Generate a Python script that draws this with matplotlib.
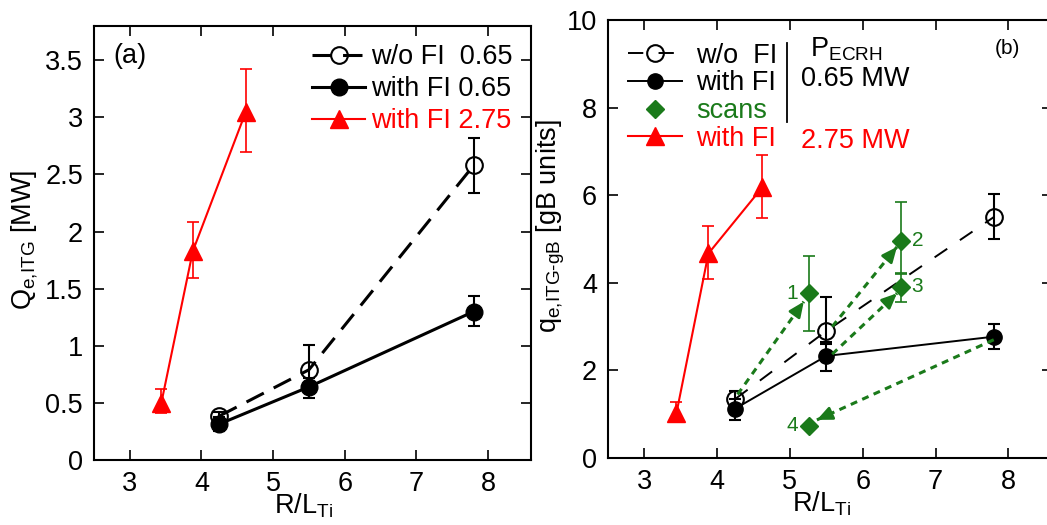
import numpy as np
import matplotlib
matplotlib.use("Agg")
import matplotlib.pyplot as plt
from matplotlib.lines import Line2D

plt.rcParams['font.family'] = ['Liberation Sans', 'DejaVu Sans']
plt.rcParams['mathtext.fontset'] = 'custom'
plt.rcParams['mathtext.rm'] = 'Liberation Sans'
plt.rcParams['mathtext.it'] = 'Liberation Sans'
plt.rcParams['lines.scale_dashes'] = False

GREEN = '#1a7a1a'
FS = 19.5

# ---- panel (a): Q_e,ITG [MW] ----
x_low = [4.25, 5.5, 7.8]
Q_nofi = [0.385, 0.79, 2.58]
Q_nofi_lo = [0.33, 0.60, 2.34]
Q_nofi_hi = [0.42, 1.01, 2.82]
Q_fi = [0.315, 0.64, 1.30]
Q_fi_lo = [0.25, 0.54, 1.17]
Q_fi_hi = [0.38, 0.72, 1.44]

x_high = [3.44, 3.88, 4.62]
Q_hi = [0.50, 1.83, 3.05]
Q_hi_lo = [0.41, 1.59, 2.70]
Q_hi_hi = [0.62, 2.08, 3.42]

# ---- panel (b): q_e,ITG-gB [gB units] ----
q_nofi = [1.35, 2.90, 5.50]
q_nofi_lo = [1.20, 2.65, 4.99]
q_nofi_hi = [1.54, 3.68, 6.02]
q_fi = [1.13, 2.33, 2.77]
q_fi_lo = [0.87, 1.99, 2.50]
q_fi_hi = [1.35, 2.60, 3.07]
q_hi = [1.02, 4.67, 6.18]
q_hi_lo = [0.85, 4.08, 5.47]
q_hi_hi = [1.27, 5.30, 6.92]

scan_x = [5.26, 6.52, 6.52, 5.26]
scan_q = [3.76, 4.96, 3.91, 0.74]
scan_lo = [2.91, 4.22, 3.57, 0.74]
scan_hi = [4.61, 5.84, 4.19, 0.74]
scan_names = ['1', '2', '3', '4']
# arrows: start point (reference case) -> scan point
arrow_from = [(4.28, 1.45), (5.58, 3.0), (5.58, 2.37), (7.80, 2.70)]
arrow_to = [(5.19, 3.57), (6.47, 4.82), (6.47, 3.76), (5.37, 0.87)]


def err(y, lo, hi):
    y = np.array(y)
    return [y - np.array(lo), np.array(hi) - y]


def style_axes(ax):
    ax.set_xlim(2.5, 8.6)
    ax.set_xticks([3, 4, 5, 6, 7, 8])
    ax.tick_params(direction='in', length=7, width=1.2, top=True, right=True,
                   labelsize=FS, pad=8)
    for s in ax.spines.values():
        s.set_linewidth(1.5)
    ax.set_xlabel(r'R/L$_{\mathregular{Ti}}$', fontsize=FS)
    ax.xaxis.set_label_coords(0.48, -0.072)


fig = plt.figure(figsize=(10.47, 5.25), dpi=100)
W, H = 1047, 525
ax1 = fig.add_axes([94 / W, (H - 460) / H, (531 - 94) / W, (460 - 26) / H])
ax2 = fig.add_axes([608 / W, (H - 458) / H, (1052 - 608) / W, (458 - 20) / H])

# panel (a)
ax1.errorbar(x_low, Q_nofi, yerr=err(Q_nofi, Q_nofi_lo, Q_nofi_hi), fmt='none',
             ecolor='k', elinewidth=1.5, capsize=4, capthick=1.5)
ax1.errorbar(x_low, Q_fi, yerr=err(Q_fi, Q_fi_lo, Q_fi_hi), fmt='none',
             ecolor='k', elinewidth=1.5, capsize=4, capthick=1.5)
ax1.errorbar(x_high, Q_hi, yerr=err(Q_hi, Q_hi_lo, Q_hi_hi), fmt='none',
             ecolor='red', elinewidth=1.2, capsize=4, capthick=1.2)
l1, = ax1.plot(x_low, Q_nofi, color='k', lw=2.2, dashes=(14, 8), marker='o',
               ms=12, mfc='none', mec='k', mew=1.5)
l2, = ax1.plot(x_low, Q_fi, color='k', lw=2.2, marker='o', ms=12, mfc='k', mec='k')
l3, = ax1.plot(x_high, Q_hi, color='red', lw=1.5, marker='^', ms=13, mfc='red', mec='red')
ax1.set_ylim(0, 3.8)
ax1.set_yticks([0, 0.5, 1, 1.5, 2, 2.5, 3, 3.5])
ax1.set_yticklabels(['0', '0.5', '1', '1.5', '2', '2.5', '3', '3.5'])
style_axes(ax1)
ax1.set_ylabel(r'Q$_{\mathregular{e{,}ITG}}$ [MW]', fontsize=FS)
ax1.yaxis.set_label_coords(-0.124, 0.507)
ax1.text(0.045, 0.93, '(a)', transform=ax1.transAxes, fontsize=FS, va='center')
leg1 = ax1.legend([l1, l2, l3], ['w/o FI  0.65', 'with FI 0.65', 'with FI 2.75'],
                  loc='upper left', bbox_to_anchor=(0.499, 0.958), frameon=False,
                  fontsize=FS, handlelength=1.96, handletextpad=0.2,
                  labelspacing=0.22, borderaxespad=0, borderpad=0)
for t, c in zip(leg1.get_texts(), ['k', 'k', 'red']):
    t.set_color(c)

# panel (b)
ax2.errorbar(x_low, q_nofi, yerr=err(q_nofi, q_nofi_lo, q_nofi_hi), fmt='none',
             ecolor='k', elinewidth=1.5, capsize=4, capthick=1.5)
ax2.errorbar(x_low, q_fi, yerr=err(q_fi, q_fi_lo, q_fi_hi), fmt='none',
             ecolor='k', elinewidth=1.5, capsize=4, capthick=1.5)
ax2.errorbar(x_high, q_hi, yerr=err(q_hi, q_hi_lo, q_hi_hi), fmt='none',
             ecolor='red', elinewidth=1.2, capsize=4, capthick=1.2)
ax2.errorbar(scan_x, scan_q, yerr=err(scan_q, scan_lo, scan_hi), fmt='none',
             ecolor=GREEN, elinewidth=1.2, capsize=4, capthick=1.2)
r1, = ax2.plot(x_low, q_nofi, color='k', lw=1.4, dashes=(11, 11), marker='o',
               ms=12, mfc='none', mec='k', mew=1.5)
r2, = ax2.plot(x_low, q_fi, color='k', lw=1.4, marker='o', ms=11, mfc='k', mec='k')
r4, = ax2.plot(x_high, q_hi, color='red', lw=1.5, marker='^', ms=13, mfc='red', mec='red')
for (x0, y0), (x1, y1) in zip(arrow_from, arrow_to):
    ax2.plot([x0, x1], [y0, y1], color=GREEN, lw=2.2, dashes=(5, 4))
    ax2.annotate('', xy=(x1, y1), xytext=(x0 + 0.93 * (x1 - x0), y0 + 0.93 * (y1 - y0)),
                 arrowprops=dict(arrowstyle='-|>,head_length=0.9,head_width=0.4',
                                 color=GREEN, lw=2.0, shrinkA=0, shrinkB=0))
r3, = ax2.plot(scan_x, scan_q, ls='none', marker='D', ms=9, mfc=GREEN, mec=GREEN)
for xs, ys, nm in zip(scan_x, scan_q, scan_names):
    dx = -0.23 if nm in ('1', '4') else 0.23
    ax2.text(xs + dx, ys, nm, color=GREEN, fontsize=15, ha='center', va='center')
ax2.set_ylim(0, 10)
ax2.set_yticks([0, 2, 4, 6, 8, 10])
style_axes(ax2)
ax2.set_ylabel(r'q$_{\mathregular{e{,}ITG\text{-}gB}}$ [gB units]', fontsize=FS)
ax2.yaxis.set_label_coords(-0.092, 0.53)
ax2.text(0.9, 0.935, '(b)', transform=ax2.transAxes, fontsize=15, ha='center', va='center')
leg2 = ax2.legend([r1, r2, r3, r4], ['w/o  FI', 'with FI', 'scans', 'with FI'],
                  loc='upper left', bbox_to_anchor=(0.045, 0.948), frameon=False,
                  fontsize=FS, handlelength=2.0, handletextpad=0.52,
                  labelspacing=0.06, borderaxespad=0, borderpad=0)
for t, c in zip(leg2.get_texts(), ['k', 'k', GREEN, 'red']):
    t.set_color(c)
ax2.add_line(Line2D([0.403, 0.403], [0.767, 0.947], transform=ax2.transAxes,
                    color='k', lw=1.3))
ax2.text(0.455, 0.933, r'P$_{\mathregular{ECRH}}$', transform=ax2.transAxes,
         fontsize=FS, va='center')
ax2.text(0.435, 0.865, '0.65 MW', transform=ax2.transAxes, fontsize=FS, va='center')
ax2.text(0.435, 0.723, '2.75 MW', transform=ax2.transAxes, fontsize=FS,
         va='center', color='red')

fig.savefig('out.png', dpi=100)
